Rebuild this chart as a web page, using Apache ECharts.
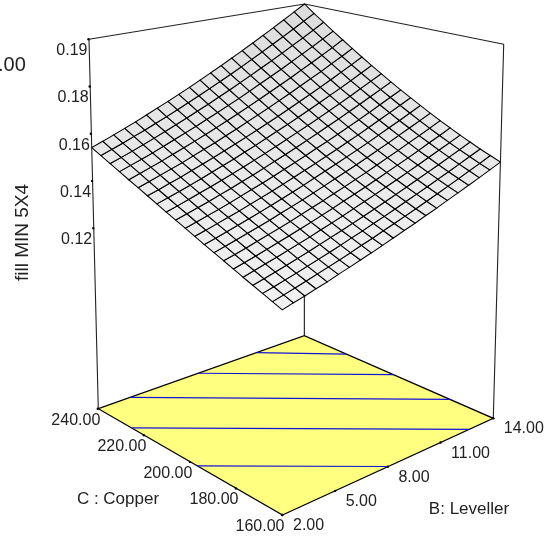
<!DOCTYPE html>
<html>
<head>
<meta charset="utf-8">
<script src="https://cdn.jsdelivr.net/npm/echarts@6/dist/echarts.min.js"></script>
<style>html,body{margin:0;padding:0;background:#fff}#c{width:553px;height:539px}</style>
</head>
<body>
<div id="c"></div>
<script>
// ---------- data ----------
const levellerLevels = [2,2.6,3.2,3.8,4.4,5,5.6,6.2,6.8,7.4,8,8.6,9.2,9.8,10.4,11,11.6,12.2,12.8,13.4,14];
const copperLevels = [160,164,168,172,176,180,184,188,192,196,200,204,208,212,216,220,224,228,232,236,240];
// one row per copper level, one column per leveller level, in units of 0.0001 fill
const fillRows = [
[1201,1213,1224,1237,1249,1263,1276,1290,1304,1319,1334,1350,1365,1382,1398,1416,1433,1451,1469,1488,1507],
[1216,1227,1239,1251,1264,1277,1290,1304,1319,1333,1349,1364,1380,1396,1413,1430,1448,1466,1485,1503,1523],
[1231,1242,1254,1266,1279,1292,1305,1319,1334,1348,1364,1379,1395,1412,1429,1446,1464,1482,1501,1520,1539],
[1246,1257,1269,1281,1294,1307,1321,1335,1349,1364,1379,1395,1411,1428,1445,1463,1481,1499,1518,1537,1557],
[1261,1273,1285,1297,1310,1323,1336,1351,1365,1380,1396,1412,1428,1445,1462,1480,1498,1517,1536,1555,1575],
[1277,1288,1300,1313,1326,1339,1353,1367,1382,1397,1413,1429,1445,1462,1480,1498,1516,1535,1555,1574,1595],
[1293,1304,1316,1329,1342,1355,1369,1384,1399,1414,1430,1446,1463,1480,1498,1517,1535,1555,1574,1594,1615],
[1309,1321,1333,1346,1359,1372,1387,1401,1416,1432,1448,1465,1482,1499,1517,1536,1555,1575,1595,1615,1636],
[1325,1337,1350,1363,1376,1390,1404,1419,1434,1450,1467,1484,1501,1519,1537,1556,1576,1596,1616,1637,1659],
[1342,1354,1367,1380,1393,1408,1422,1437,1453,1469,1486,1503,1521,1539,1558,1577,1597,1618,1639,1660,1682],
[1359,1371,1384,1397,1411,1426,1441,1456,1472,1489,1506,1523,1542,1560,1579,1599,1619,1640,1662,1684,1706],
[1376,1389,1402,1415,1430,1444,1460,1475,1492,1509,1526,1544,1563,1582,1602,1622,1643,1664,1686,1708,1731],
[1393,1406,1420,1434,1448,1463,1479,1495,1512,1529,1547,1566,1585,1604,1624,1645,1666,1688,1711,1734,1757],
[1411,1424,1438,1452,1467,1483,1499,1515,1533,1550,1569,1588,1607,1627,1648,1669,1691,1713,1736,1760,1784],
[1429,1442,1457,1471,1487,1503,1519,1536,1554,1572,1591,1610,1630,1651,1672,1694,1716,1739,1763,1787,1812],
[1447,1461,1476,1491,1506,1523,1540,1557,1576,1594,1614,1634,1654,1676,1697,1720,1743,1766,1791,1815,1841],
[1465,1480,1495,1510,1527,1544,1561,1579,1598,1617,1637,1658,1679,1701,1723,1746,1770,1794,1819,1844,1871],
[1484,1499,1514,1530,1547,1565,1583,1601,1621,1641,1661,1682,1704,1727,1750,1773,1798,1823,1848,1874,1901],
[1503,1518,1534,1551,1568,1586,1605,1624,1644,1664,1686,1707,1730,1753,1777,1801,1826,1852,1878,1905,1933],
[1522,1538,1554,1572,1589,1608,1627,1647,1668,1689,1711,1733,1756,1780,1805,1830,1856,1882,1909,1937,1965],
[1541,1558,1575,1593,1611,1631,1651,1671,1692,1714,1737,1760,1784,1809,1834,1860,1887,1914,1942,1971,2000]
];
const fillTickValues = [0.12,0.14,0.16,0.18,0.20];
const fillTickLabels = ['0.12','0.14','0.16','0.18','0.19'];
const copperTickValues = [240,220,200,180,160];
const copperTickLabels = ['240.00','220.00','200.00','180.00','160.00'];
const levellerTickValues = [2,5,8,11,14];
const levellerTickLabels = ['2.00','5.00','8.00','11.00','14.00'];
// contour ends on the floor: [leveller, copper]
const contourA = [[11.23,240],[14,222.1]];
const contourB = [[7.83,240],[14,202.3]];
const contourC = [[3.85,240],[14,178.3]];
const contourD = [[2,225.5],[12.63,160]];
const contourE = [[2,197],[8.02,160]];

// ---------- view of the box ----------
const fillFloor = 0.0435, fillTop = 0.2;
const cornersFloor = {f:[282.5,515], r:[493.3,418.3], b:[304.3,335.7], l:[98.3,408.7]};
const cornersTop = {f:[282,96], r:[503.7,44.3], b:[304.5,4], l:[89,39.3]};
const depth = 0.05;
const warp = t => (1 + depth) * t / (1 + depth * t);
function project(lev, cop, fill, persp) {
  let u = (lev - 2) / 12, v = (cop - 160) / 80;
  if (persp) { u = warp(u); v = warp(v); }
  const w = (fill - fillFloor) / (fillTop - fillFloor);
  const out = [0, 1].map(k => {
    const at = s => (1-u)*(1-v)*s.f[k] + u*(1-v)*s.r[k] + u*v*s.b[k] + (1-u)*v*s.l[k];
    return (1 - w) * at(cornersFloor) + w * at(cornersTop);
  });
  return out;
}
const ink = '#000';
const labelFont = '16px "Liberation Sans", Arial, sans-serif';
const titleFont = '17px "Liberation Sans", Arial, sans-serif';
const lineSeries = (pts, color, width, z) => ({
  type: 'line', data: pts, symbol: 'none', silent: true, z,
  lineStyle: {color, width}, clip: false, animation: false
});
const contour = seg => lineSeries(seg.map(p => project(p[0], p[1], fillFloor)), '#1414d8', 1.2, 3);

// surface cells
const cells = [];
for (let j = 0; j < copperLevels.length - 1; j++)
  for (let i = 0; i < levellerLevels.length - 1; i++) cells.push([i, j]);
const surface = {
  type: 'custom', coordinateSystem: 'cartesian2d', data: cells, z: 5, silent: true, clip: false, animation: false,
  renderItem(params, api) {
    const i = api.value(0), j = api.value(1);
    const corner = (a, b) => api.coord(project(levellerLevels[a], copperLevels[b], fillRows[b][a] / 10000, true));
    const mean = (fillRows[j][i] + fillRows[j][i+1] + fillRows[j+1][i] + fillRows[j+1][i+1]) / 40000;
    const g = Math.round(241 - Math.max(0, (mean - 0.12) / 0.08) * 21);
    return {type: 'polygon', shape: {points: [corner(i,j), corner(i+1,j), corner(i+1,j+1), corner(i,j+1)]},
      style: {fill: `rgb(${g},${g},${g})`, stroke: ink, lineWidth: 1.05}};
  }
};
// floor
const floor = {
  type: 'custom', coordinateSystem: 'cartesian2d', data: [[0,0]], z: 2, silent: true, clip: false, animation: false,
  renderItem(params, api) {
    const pts = [[2,160],[14,160],[14,240],[2,240]].map(p => api.coord(project(p[0], p[1], fillFloor)));
    return {type: 'polygon', shape: {points: pts}, style: {fill: '#ffff80', stroke: '#000', lineWidth: 1.3}};
  }
};
// ticks with text
function tickSeries(values, labels, toPoint, dx, dy, align) {
  return {
    type: 'custom', coordinateSystem: 'cartesian2d', data: values.map((v, k) => [v, k]), z: 6, silent: true, clip: false, animation: false,
    renderItem(params, api) {
      const k = api.value(1);
      const p = api.coord(toPoint(api.value(0)));
      return {type: 'group', children: [
        {type: 'circle', shape: {cx: p[0] - (align === 'right' ? 0.5 : 0), cy: p[1], r: 1.2}, style: {fill: '#000'}},
        {type: 'text', style: {text: labels[k], x: p[0] + dx, y: p[1] + dy, textAlign: align, textVerticalAlign: 'middle', font: labelFont, fill: '#222'}}
      ]};
    }
  };
}
const option = {
  backgroundColor: '#fff',
  animation: false,
  grid: {left: 0, right: 0, top: 0, bottom: 0},
  xAxis: {type: 'value', min: 0, max: 553, show: false},
  yAxis: {type: 'value', min: 0, max: 539, inverse: true, show: false},
  graphic: [
    {type: 'text', x: -2, y: 65.5, style: {text: '.00', font: '20px "Liberation Sans", Arial, sans-serif', fill: '#222', textVerticalAlign: 'middle'}},
    {type: 'text', x: 22.5, y: 232.5, rotation: Math.PI / 2, style: {text: 'fill MIN 5X4', font: '19px "Liberation Sans", Arial, sans-serif', fill: '#222', textAlign: 'center', textVerticalAlign: 'middle'}},
    {type: 'text', x: 118, y: 499, style: {text: 'C : Copper', font: titleFont, fill: '#222', textAlign: 'center', textVerticalAlign: 'middle'}},
    {type: 'text', x: 469, y: 509, style: {text: 'B: Leveller', font: titleFont, fill: '#222', textAlign: 'center', textVerticalAlign: 'middle'}}
  ],
  series: [
    floor,
    lineSeries([project(14,240,fillFloor), project(14,240,fillTop)], ink, 1, 1),
    lineSeries([project(2,240,fillFloor), project(2,240,fillTop), project(14,240,fillTop), project(14,160,fillTop), project(14,160,fillFloor)], '#222', 1.1, 4),
    contour(contourA), contour(contourB), contour(contourC), contour(contourD), contour(contourE),
    surface,
    tickSeries(fillTickValues, fillTickLabels, v => project(2,240,v), -1.5, 11.5, 'right'),
    tickSeries(copperTickValues, copperTickLabels, v => project(2,v,fillFloor), 2, 11.5, 'right'),
    tickSeries(levellerTickValues, levellerTickLabels, v => project(v,160,fillFloor), 10.5, 10.7, 'left')
  ]
};
echarts.init(document.getElementById('c'), null, {renderer: 'canvas'}).setOption(option);
</script>
</body>
</html>
